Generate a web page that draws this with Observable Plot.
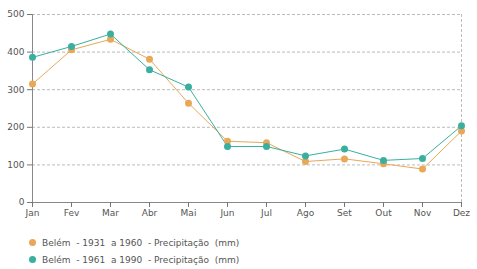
<!DOCTYPE html>
<html><head><meta charset="utf-8">
<script src="https://cdn.jsdelivr.net/npm/d3@7"></script>
<script src="https://cdn.jsdelivr.net/npm/@observablehq/plot@0.6"></script>
<style>
body{margin:0;background:#fff;font-family:"DejaVu Sans",sans-serif;}
#legend{margin-left:29px;margin-top:12px;font-size:9px;color:#555;}
.item{display:flex;align-items:center;height:17px;}
.dot{width:7px;height:7px;border-radius:50%;margin-right:6px;}
</style></head>
<body><div id="chart"></div><div id="legend"></div>
<script>
const months = ["Jan","Fev","Mar","Abr","Mai","Jun","Jul","Ago","Set","Out","Nov","Dez"];
const series1Name = "Belém  - 1931  a 1960  - Precipitação  (mm)";
const series1 = [315,406,434,381,264,163,159,109,116,103,89,190];
const series2Name = "Belém  - 1961  a 1990  - Precipitação  (mm)";
const series2 = [386,415,448,353,307,149,149,124,142,112,117,204];
const colors = ["#E8A857","#3AAFA0"];
const yTicks = [0,100,200,300,400,500];

const data = [];
months.forEach((m,i)=>{
  data.push({month:m, value:series1[i], s:series1Name});
  data.push({month:m, value:series2[i], s:series2Name});
});

const chart = Plot.plot({
  width:477, height:222,
  marginLeft:32, marginRight:16, marginTop:14, marginBottom:20,
  style:{fontFamily:"DejaVu Sans, sans-serif", fontSize:"9px", color:"#555"},
  x:{type:"point", domain:months, padding:0},
  y:{domain:[0,500]},
  color:{domain:[series1Name,series2Name], range:colors},
  marks:[
    Plot.gridY(yTicks.slice(1), {stroke:"#aaa", strokeOpacity:1, strokeDasharray:"3,2", strokeWidth:0.8}),
    Plot.ruleX(["Dez"], {stroke:"#aaa", strokeDasharray:"3,2", strokeWidth:0.8, y1:0, y2:500}),
    Plot.axisY({ticks:yTicks, tickSize:5, tickPadding:3, label:null, stroke:"#777"}),
    Plot.ruleX([0], {x:()=>months[0], stroke:"#888"}),
    Plot.ruleY([0], {stroke:"#888"}),
    Plot.axisX({tickSize:5, tickPadding:2, label:null, stroke:"#777"}),
    Plot.line(data, {x:"month", y:"value", stroke:"s", strokeWidth:1}),
    Plot.dot(data, {x:"month", y:"value", fill:"s", r:3.5})
  ]
});
document.getElementById("chart").appendChild(chart);

const leg = document.getElementById("legend");
[[series1Name,colors[0]],[series2Name,colors[1]]].forEach(([n,c])=>{
  const d=document.createElement("div");d.className="item";
  d.innerHTML=`<span class="dot" style="background:${c}"></span><span style="white-space:pre">${n}</span>`;
  leg.appendChild(d);
});
</script></body></html>
